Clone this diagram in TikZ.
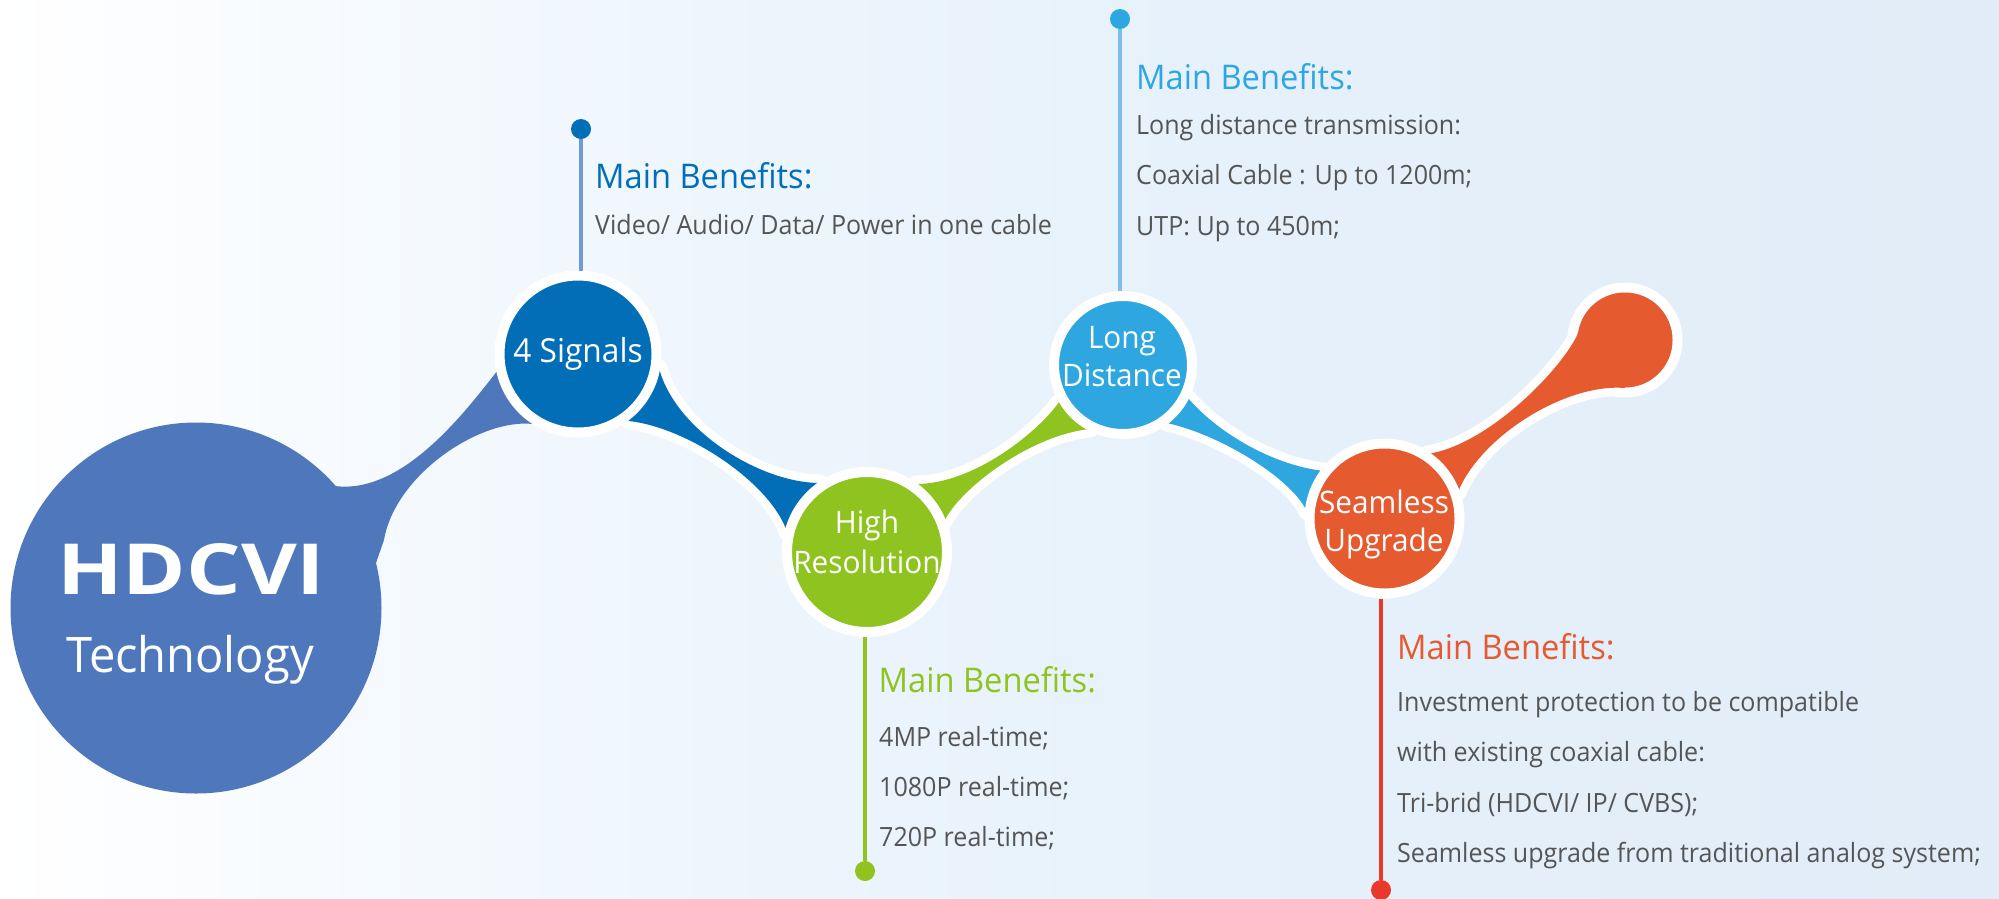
\documentclass[tikz,border=0pt]{standalone}
\usepackage{fontspec}
\setmainfont{Open Sans}
\newfontfamily\bodyfont[FakeStretch=0.945]{Open Sans}
\newfontfamily\capfont[FakeStretch=0.96]{Open Sans}
\definecolor{bigblue}{HTML}{4F78BC}
\definecolor{darkblue}{HTML}{036EB8}
\definecolor{grass}{HTML}{8FC31F}
\definecolor{sky}{HTML}{2EA7E0}
\definecolor{orange1}{HTML}{E55A2F}
\definecolor{redline}{HTML}{E8392A}
\definecolor{stemblue}{HTML}{6E9BD2}
\definecolor{stemsky}{HTML}{7FBCEA}
\definecolor{bodygrey}{HTML}{555555}
\definecolor{bgA}{HTML}{F8FBFE}
\definecolor{bgB}{HTML}{F0F7FD}
\definecolor{bgC}{HTML}{E6F1FB}
\definecolor{bgD}{HTML}{E1ECF8}
\pgfdeclarehorizontalshading{bgshade}{100bp}{color(0bp)=(white); color(25bp)=(white); color(32bp)=(bgA); color(40bp)=(bgB); color(55bp)=(bgC); color(75bp)=(bgD); color(100bp)=(bgD)}
\tikzset{
  ballnode/.style={circle,inner sep=0pt,outer sep=0pt,draw=white,line width=10pt},
  dotnode/.style={circle,inner sep=0pt,outer sep=0pt,minimum size=20pt},
  halo/.style={draw=white,line width=17pt,line join=round},
  titletext/.style={anchor=base west,inner sep=0pt,font=\capfont\fontsize{34}{34}\selectfont},
  bodytext/.style={anchor=base west,inner sep=0pt,text=bodygrey,font=\bodyfont\fontsize{26.5}{26.5}\selectfont},
  balltext/.style={anchor=base,inner sep=0pt,text=white,font=\capfont\fontsize{31}{31}\selectfont},
  stem/.style={line width=3.5pt,shorten >=5pt}
}
\begin{document}
\begin{tikzpicture}[x=1pt,y=-1pt]
\clip (0,0) rectangle (1999,898);
\shade[shading=bgshade] (0,0) rectangle (1999,898);

% centres
\coordinate (bigc) at (196,608);
\coordinate (sigc) at (578,354);
\coordinate (hrc) at (867,552);
\coordinate (ldc) at (1123,365);
\coordinate (suc) at (1384.5,518.5);
\coordinate (blobc) at (1625,340);

\node[dotnode,fill=darkblue] (sigdot) at (581,129) {};
\node[dotnode,fill=sky] (lddot) at (1120,19) {};
\node[dotnode,fill=grass] (hrdot) at (865,871) {};
\node[dotnode,fill=redline] (sudot) at (1381,890) {};

% connector bodies
\fill[bigblue] (335,486) .. controls (405,495) and (470,405) .. (498,370)
  -- (sigc) -- (533,424) .. controls (480,418) and (395,475) .. (384,540)
  -- (376,563) -- (bigc) -- cycle;
\node[circle,inner sep=0pt,outer sep=0pt,minimum size=371pt,fill=bigblue] (big) at (bigc) {};

\path[halo] (659,368) .. controls (675,430) and (760,483) .. (820,483)
  -- (hrc) -- (787,532) .. controls (772,485) and (690,428) .. (629,421) -- (sigc) -- cycle;
\fill[darkblue] (659,368) .. controls (675,430) and (760,483) .. (820,483)
  -- (hrc) -- (787,532) .. controls (772,485) and (690,428) .. (629,421) -- (sigc) -- cycle;

\path[halo] (916,484) .. controls (975,484) and (1040,430) .. (1059,402)
  -- (ldc) -- (1090,429) .. controls (1030,435) and (958,490) .. (944,522) -- (hrc) -- cycle;
\fill[grass] (916,484) .. controls (975,484) and (1040,430) .. (1059,402)
  -- (ldc) -- (1090,429) .. controls (1030,435) and (958,490) .. (944,522) -- (hrc) -- cycle;

\path[halo] (1188,398) .. controls (1215,430) and (1270,465) .. (1324,471)
  -- (suc) -- (1307,512) .. controls (1295,482) and (1225,436) .. (1167,423) -- (ldc) -- cycle;
\fill[sky] (1188,398) .. controls (1215,430) and (1270,465) .. (1324,471)
  -- (suc) -- (1307,512) .. controls (1295,482) and (1225,436) .. (1167,423) -- (ldc) -- cycle;

\path[halo] (1427,454) .. controls (1490,445) and (1565,365) .. (1578,333)
  -- (blobc) -- (1625,388) .. controls (1565,383) and (1480,437) .. (1458,492) -- (suc) -- cycle;
\path[draw=white,line width=10pt] (blobc) circle[radius=52.5];
\fill[orange1] (1427,454) .. controls (1490,445) and (1565,365) .. (1578,333)
  -- (blobc) -- (1625,388) .. controls (1565,383) and (1480,437) .. (1458,492) -- (suc) -- cycle;
\node[circle,inner sep=0pt,outer sep=0pt,minimum size=95pt,fill=orange1] (blob) at (blobc) {};

% balls
\node[ballnode,fill=darkblue,minimum size=157pt] (sig) at (sigc) {};
\node[ballnode,fill=grass,minimum size=160pt] (hr) at (hrc) {};
\node[ballnode,fill=sky,minimum size=138pt] (ld) at (ldc) {};
\node[ballnode,fill=orange1,minimum size=150pt] (su) at (suc) {};

% stems
\draw[stem,draw=stemblue] (sigdot) -- (sigdot |- sig.north);
\draw[stem,draw=stemsky,line width=4pt] (lddot) -- (lddot |- ld.north);
\draw[stem,draw=grass] (hrdot) -- (hrdot |- hr.south);
\draw[stem,draw=redline] (sudot) -- (sudot |- su.south);

% ball labels
\node[balltext,font=\capfont\fontsize{33}{33}\selectfont] (sigt) at (578,362) {4 Signals};
\node[balltext] (hrt1) at (867,533) {High};
\node[balltext] (hrt2) at (867,573) {Resolution};
\node[balltext] (ldt1) at (1122,348) {Long};
\node[balltext] (ldt2) at (1122,386) {Distance};
\node[balltext] (sut1) at (1384,513) {Seamless};
\node[balltext] (sut2) at (1384,551) {Upgrade};

% big circle labels
\node[anchor=base,inner sep=0pt,text=white,font=\capfont\fontsize{49}{49}\selectfont] (tech) at (190,672) {Technology};
\node[anchor=south west,inner sep=0pt,text=white] (logo) at (57,595) {\resizebox{268pt}{51pt}{\bfseries HDCVI}};

% benefit texts
\node[titletext,text=darkblue] (t1) at (595,188) {Main Benefits:};
\node[bodytext] (b11) at (595,234) {Video/ Audio/ Data/ Power in one cable};

\node[titletext,text=sky] (t2) at (1136,89) {Main Benefits:};
\node[bodytext] (b21) at (1136,134) {Long distance transmission:};
\node[bodytext] (b22) at (1136,184) {Coaxial Cable : Up to 1200m;};
\node[bodytext] (b23) at (1136,235) {UTP: Up to 450m;};

\node[titletext,text=grass] (t3) at (878.5,692) {Main Benefits:};
\node[bodytext] (b31) at (879,746) {4MP real-time;};
\node[bodytext] (b32) at (879,796) {1080P real-time;};
\node[bodytext] (b33) at (879,846) {720P real-time;};

\node[titletext,text=orange1] (t4) at (1397,659) {Main Benefits:};
\node[bodytext] (b41) at (1397,711) {Investment protection to be compatible};
\node[bodytext] (b42) at (1397,761) {with existing coaxial cable:};
\node[bodytext] (b43) at (1397,812) {Tri-brid (HDCVI/ IP/ CVBS);};
\node[bodytext] (b44) at (1397,862) {Seamless upgrade from traditional analog system;};
\end{tikzpicture}
\end{document}
